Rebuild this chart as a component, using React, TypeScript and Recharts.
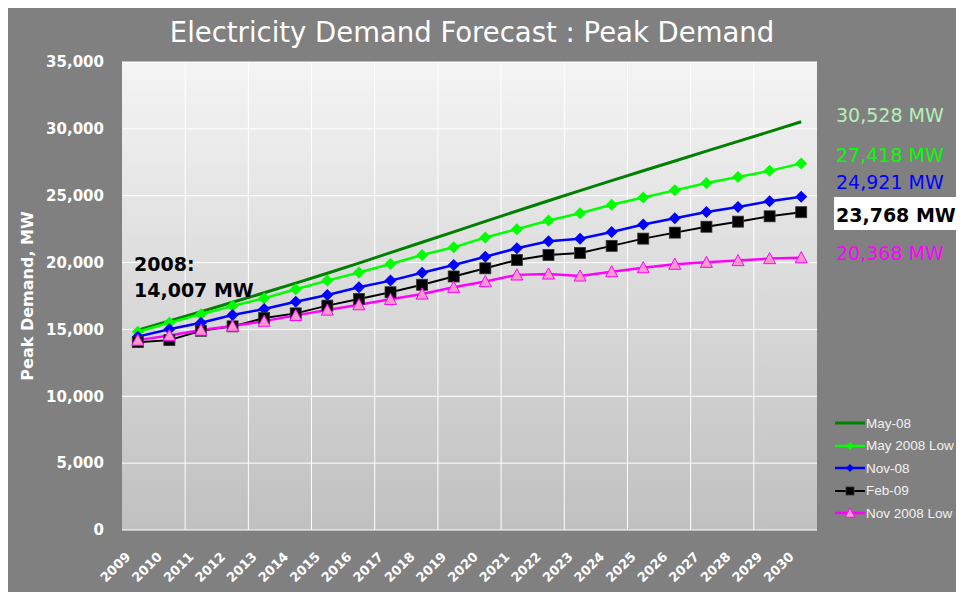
import * as React from "react";
import { LineChart, Line, XAxis, YAxis, CartesianGrid, Legend } from "recharts";

const years = [
  "2009", "2010", "2011", "2012", "2013", "2014", "2015", "2016", "2017", "2018", "2019",
  "2020", "2021", "2022", "2023", "2024", "2025", "2026", "2027", "2028", "2029", "2030",
];

const may08 = [
  14950, 15640, 16330, 17030, 17740, 18460, 19200, 19960, 20740, 21520, 22300,
  23080, 23860, 24620, 25380, 26130, 26870, 27600, 28330, 29060, 29790, 30528,
];
const may08Low = [
  14830, 15500, 16130, 16750, 17330, 18000, 18650, 19260, 19890, 20570, 21140,
  21880, 22490, 23150, 23690, 24330, 24870, 25400, 25950, 26400, 26860, 27418,
];
const nov08 = [
  14460, 15010, 15500, 16080, 16530, 17070, 17580, 18150, 18650, 19240, 19820,
  20440, 21070, 21600, 21780, 22290, 22840, 23310, 23780, 24160, 24590, 24921,
];
const feb09 = [
  14050, 14200, 14900, 15230, 15850, 16200, 16780, 17280, 17780, 18340, 18960,
  19570, 20190, 20570, 20720, 21250, 21790, 22240, 22680, 23060, 23460, 23768,
];
const nov08Low = [
  14200, 14550, 14950, 15250, 15620, 16050, 16450, 16850, 17250, 17650, 18150,
  18580, 19080, 19150, 19000, 19320, 19620, 19880, 20020, 20150, 20300, 20368,
];

const yTicks = [0, 5000, 10000, 15000, 20000, 25000, 30000, 35000];
const baseYear = "2008";
const baseDemand = 14007;

type Shape = "none" | "diamond" | "square" | "triangle";

const series: {
  key: string;
  name: string;
  values: number[];
  color: string;
  fill: string;
  shape: Shape;
  width: number;
  labelColor: string;
}[] = [
  { key: "may08", name: "May-08", values: may08, color: "#008000", fill: "#008000", shape: "none", width: 3, labelColor: "#b6f0b6" },
  { key: "may08Low", name: "May 2008 Low", values: may08Low, color: "#00ff00", fill: "#00ff00", shape: "diamond", width: 2.5, labelColor: "#00ff00" },
  { key: "nov08", name: "Nov-08", values: nov08, color: "#0000ff", fill: "#0000ff", shape: "diamond", width: 2.5, labelColor: "#0000ff" },
  { key: "feb09", name: "Feb-09", values: feb09, color: "#000000", fill: "#000000", shape: "square", width: 2, labelColor: "#000000" },
  { key: "nov08Low", name: "Nov 2008 Low", values: nov08Low, color: "#ff00ff", fill: "#ff99cc", shape: "triangle", width: 2.5, labelColor: "#ff00ff" },
];

const data = years.map((year, i) => {
  const row: Record<string, string | number> = { year };
  series.forEach((s) => {
    row[s.key] = s.values[i];
  });
  return row;
});

const fmt = (v: number) => v.toLocaleString("en-US");

function Marker({ cx, cy, shape, color, fill, size }: {
  cx?: number; cy?: number; shape: Shape; color: string; fill: string; size: number;
}) {
  if (cx == null || cy == null || shape === "none") return null;
  const r = size / 2;
  if (shape === "diamond") {
    return <polygon points={`${cx},${cy - r} ${cx + r},${cy} ${cx},${cy + r} ${cx - r},${cy}`} fill={fill} />;
  }
  if (shape === "square") {
    return <rect x={cx - r} y={cy - r} width={size} height={size} fill={fill} stroke="#333" strokeWidth={0.8} />;
  }
  return (
    <polygon
      points={`${cx},${cy - r} ${cx + r},${cy + r * 0.85} ${cx - r},${cy + r * 0.85}`}
      fill={fill}
      stroke={color}
      strokeWidth={1}
    />
  );
}

function YearTick({ x, y, payload }: { x?: number; y?: number; payload?: { value: string } }) {
  return (
    <g transform={`translate(${(x ?? 0) - 6.5},${(y ?? 0) + 27.5})`}>
      <text
        textAnchor="end"
        transform="rotate(-45)"
        fill="#ffffff"
        fontSize={13}
        fontWeight="bold"
        fontFamily="DejaVu Sans"
      >
        {payload?.value}
      </text>
    </g>
  );
}

function LegendBox() {
  return (
    <div style={{ fontFamily: "'Liberation Sans', Arial, sans-serif", fontSize: 13.5, color: "#f2f2f2", whiteSpace: "nowrap" }}>
      {series.map((s) => (
        <div key={s.key} style={{ display: "flex", alignItems: "center", height: 22.5 }}>
          <svg width={31} height={14} style={{ display: "block", flex: "none" }}>
            <line x1={0} x2={30} y1={7} y2={7} stroke={s.color} strokeWidth={s.width} />
            <Marker cx={15} cy={7} shape={s.shape} color={s.color} fill={s.fill} size={s.shape === "triangle" ? 10 : 8} />
          </svg>
          <span style={{ whiteSpace: "nowrap", flex: "none" }}>{s.name}</span>
        </div>
      ))}
    </div>
  );
}

const endLabelTops = [100.6, 140.6, 168, 0, 239];

export default function App() {
  const vLines = ({ offset }: { offset?: { left?: number; width?: number } }) => {
    const left = offset?.left ?? 114;
    const step = (offset?.width ?? 695) / years.length;
    return years.map((_, i) => left + i * step).filter((_, i) => i > 0 && i % 2 === 0);
  };

  return (
    <div
      style={{
        position: "relative",
        width: 956,
        height: 587,
        marginTop: -3,
        background: "#808080",
        overflow: "hidden",
      }}
    >
      <LineChart width={956} height={587} data={data} margin={{ top: 57, right: 147, bottom: 22, left: 14 }}>
        <defs>
          <linearGradient id="plotBg" x1="0" y1="0" x2="0" y2="1">
            <stop offset="0" stopColor="#f4f4f4" />
            <stop offset="1" stopColor="#c0c0c0" />
          </linearGradient>
        </defs>
        <CartesianGrid
          fill="url(#plotBg)"
          fillOpacity={1}
          stroke="#ffffff"
          strokeWidth={1}
          verticalCoordinatesGenerator={vLines as any}
        />
        <XAxis
          dataKey="year"
          scale="band"
          height={40}
          axisLine={false}
          tickLine={false}
          tickSize={0}
          tickMargin={0}
          interval={0}
          tick={<YearTick />}
        />
        <YAxis
          width={100}
          domain={[0, 35000]}
          ticks={yTicks}
          axisLine={false}
          tickLine={false}
          tickSize={0}
          tickMargin={18}
          tickFormatter={fmt}
          tick={{ fill: "#ffffff", fontSize: 15, fontWeight: "bold", fontFamily: "DejaVu Sans" }}
          label={{
            value: "Peak Demand, MW",
            angle: -90,
            position: "insideLeft",
            offset: 5,
            style: { textAnchor: "middle", fill: "#ffffff", fontWeight: "bold", fontSize: 16, fontFamily: "DejaVu Sans" },
          }}
        />
        {series.map((s) => (
          <Line
            key={s.key}
            dataKey={s.key}
            name={s.name}
            type="linear"
            stroke={s.color}
            strokeWidth={s.width}
            isAnimationActive={false}
            activeDot={false}
            dot={(p: any) => (
              <Marker
                key={`${s.key}-${p.index}`}
                cx={p.cx}
                cy={p.cy}
                shape={s.shape}
                color={s.color}
                fill={s.fill}
                size={s.shape === "square" ? 11 : 12}
              />
            )}
          />
        ))}
        <Legend
          layout="vertical"
          align="center"
          verticalAlign="middle"
          content={<LegendBox />}
          wrapperStyle={{ left: 827, top: 407, width: 129, overflow: "visible" }}
        />
      </LineChart>

      <div
        style={{
          position: "absolute",
          left: 64,
          top: 13,
          width: 800,
          textAlign: "center",
          fontFamily: "DejaVu Sans",
          fontSize: 27.5,
          lineHeight: "28px",
          color: "#ffffff",
          whiteSpace: "nowrap",
        }}
      >
        Electricity Demand Forecast : Peak Demand
      </div>

      <div
        style={{
          position: "absolute",
          left: 126,
          top: 249,
          fontFamily: "DejaVu Sans",
          fontWeight: "bold",
          fontSize: 19,
          lineHeight: "26px",
          color: "#000000",
          whiteSpace: "nowrap",
        }}
      >
        <div style={{ height: 26, marginTop: -3.5 }}>{baseYear}:</div>
        <div>{fmt(baseDemand)} MW</div>
      </div>

      {series.map((s, i) => {
        const text = `${fmt(s.values[s.values.length - 1])} MW`;
        if (s.key === "feb09") {
          return (
            <div
              key={s.key}
              style={{
                position: "absolute",
                left: 826,
                top: 192,
                width: 124,
                height: 33,
                background: "#ffffff",
                fontFamily: "DejaVu Sans",
                fontWeight: "bold",
                fontSize: 19,
                lineHeight: "19px",
                color: s.labelColor,
                boxSizing: "border-box",
                paddingLeft: 2,
                paddingTop: 9,
                whiteSpace: "nowrap",
              }}
            >
              {text}
            </div>
          );
        }
        return (
          <div
            key={s.key}
            style={{
              position: "absolute",
              left: 828,
              top: endLabelTops[i],
              fontFamily: "DejaVu Sans",
              fontSize: 19,
              lineHeight: "19px",
              color: s.labelColor,
              whiteSpace: "nowrap",
            }}
          >
            {text}
          </div>
        );
      })}
    </div>
  );
}
